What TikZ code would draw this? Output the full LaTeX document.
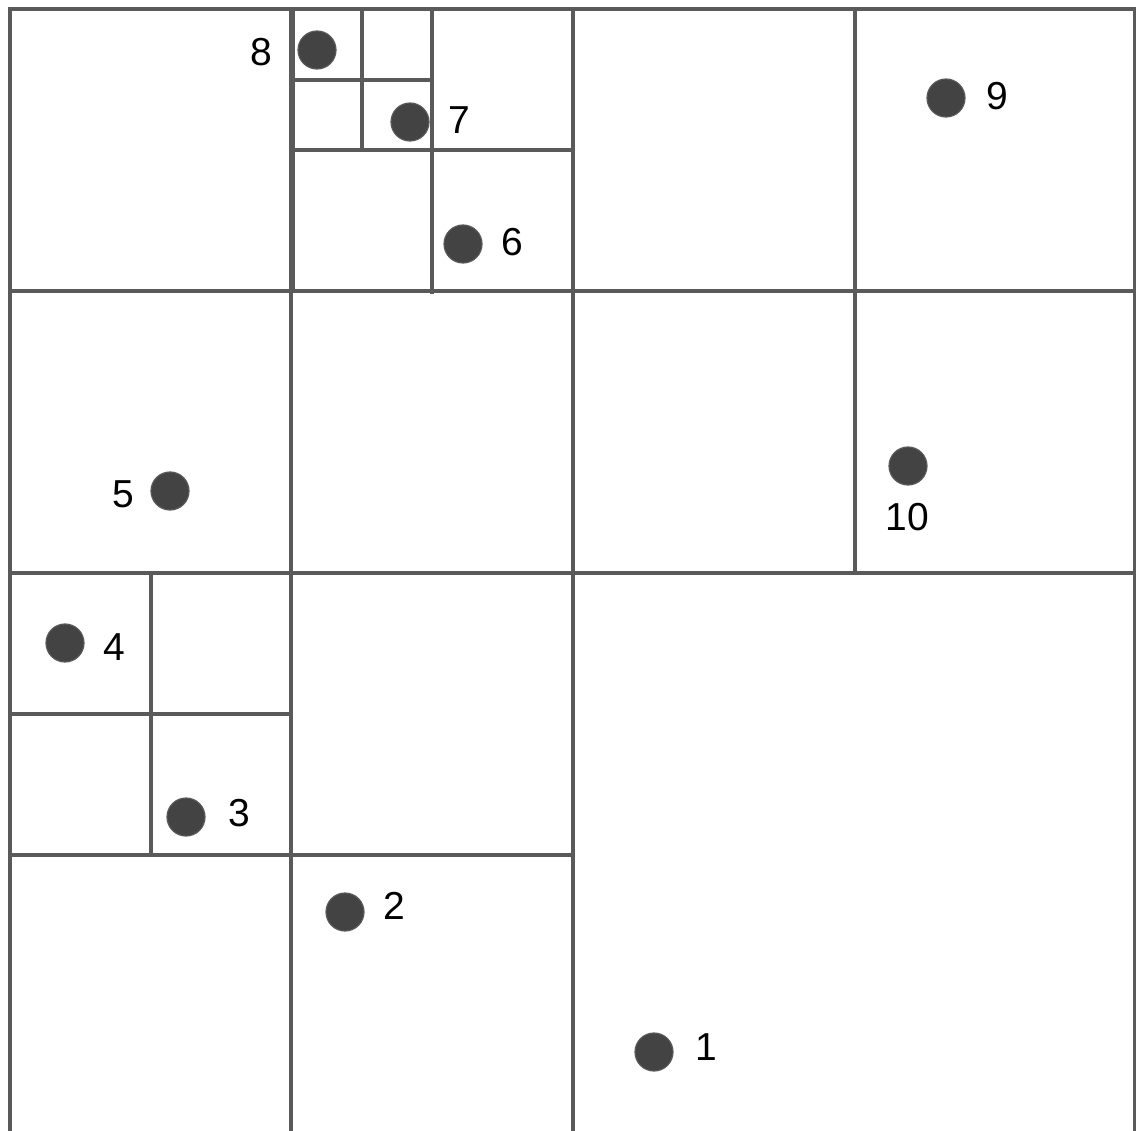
\documentclass[tikz,border=0pt]{standalone}
\usepackage{fontspec}
\setmainfont{Liberation Sans}
\definecolor{gridc}{HTML}{5A5A5A}
\definecolor{dotc}{HTML}{434343}
\definecolor{dotb}{HTML}{595959}
\begin{document}
\begin{tikzpicture}[x=1pt,y=-1pt,
  gridline/.style={draw=gridc,line width=4pt},
  pt/.style={circle,fill=dotc,draw=dotb,line width=1.2pt,minimum size=38pt,inner sep=0pt},
  lbl/.style={inner sep=0pt,font=\fontsize{39}{46}\selectfont,text=black}]
\useasboundingbox (0,0) rectangle (1136,1131);
\fill[white] (0,0) rectangle (1136,1131);
\begin{scope}
\clip (0,0) rectangle (1136,1131);
% main grid
\draw[gridline] (10,1140) -- (10,9) -- (1135,9) -- (1135,1140);
\foreach \x in {291,573,855} \draw[gridline] (\x,9) -- (\x,1140);
\draw[gridline] (10,291) -- (1135,291);
\draw[gridline] (10,573) -- (1135,573);
\draw[gridline] (10,855) -- (573,855);
% clear lines inside big bottom-right cell
\fill[white] (575,575) rectangle (1133,1140);
\draw[gridline] (573,573) -- (573,1140);
% top subdivision
\draw[gridline,line width=3.5pt] (293,9) -- (293,291);
\draw[gridline,line width=3.5pt] (432,9) -- (432,294);
\draw[gridline,line width=3.5pt] (291,150) -- (573,150);
\draw[gridline,line width=3.5pt] (362,9) -- (362,150);
\draw[gridline,line width=3.5pt] (291,80) -- (432,80);
% left subdivision
\draw[gridline,line width=3.5pt] (151,573) -- (151,855);
\draw[gridline,line width=3.5pt] (10,714) -- (291,714);
\end{scope}
% points
\node[pt] (p1) at (654,1052) {};
\node[pt] (p2) at (345,912) {};
\node[pt] (p3) at (186,817) {};
\node[pt] (p4) at (65,643) {};
\node[pt] (p5) at (170,491) {};
\node[pt] (p6) at (463,244) {};
\node[pt] (p7) at (410,122) {};
\node[pt] (p8) at (317,50) {};
\node[pt] (p9) at (946,98) {};
\node[pt] (p10) at (908,466) {};
% labels
\node[lbl] (l1) at (706,1047) {1};
\node[lbl] (l2) at (394,906) {2};
\node[lbl] (l3) at (239,813) {3};
\node[lbl] (l4) at (114,647) {4};
\node[lbl] (l5) at (123,494) {5};
\node[lbl] (l6) at (512,242) {6};
\node[lbl] (l7) at (459,120) {7};
\node[lbl] (l8) at (261,52) {8};
\node[lbl] (l9) at (997,96) {9};
\node[lbl] (l10) at (907,517) {10};
\end{tikzpicture}
\end{document}
